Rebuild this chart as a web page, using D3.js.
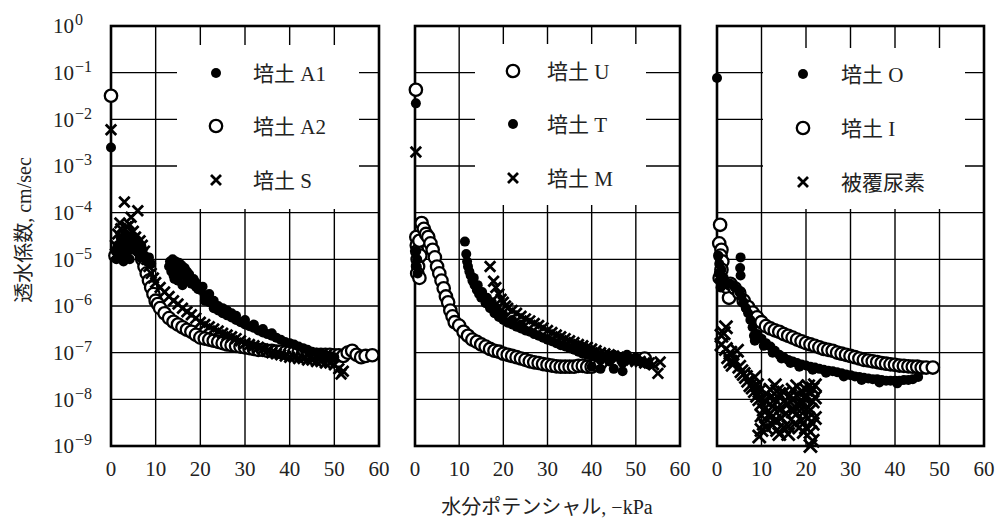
<!DOCTYPE html>
<html>
<head>
<meta charset="utf-8">
<script src="https://cdn.jsdelivr.net/npm/d3@7"></script>
<style>
  body { margin: 0; background: #fff; }
  svg text { fill: #222; }
</style>
</head>
<body>
<div class="chart"></div>
<script>
// axis ticks
const xTicks = [0, 10, 20, 30, 40, 50, 60];
const yExponents = [0, -1, -2, -3, -4, -5, -6, -7, -8, -9];

// panel 1 : [suction kPa, conductivity cm/sec]
const soilA1 = [[0,2.5e-3],[1,1.5e-5],[1.2,1e-5],[1.5,2e-5],[1.8,1.7e-5],[2,1.2e-5],[2.2,2.8e-5],[2.5,2.5e-5],[2.8,9e-6],[3,1.8e-5],[3.2,3.5e-5],[3.5,1.3e-5],[4,2.2e-5],[4.2,1e-5],[4.5,3e-5],[5,1.6e-5],[5.5,2e-5],[5.8,2.6e-5],[6,1.4e-5],[6.5,1.1e-5],[6.8,1.9e-5],[7,1.6e-5],[7.5,1.2e-5],[8,9e-6],[8.5,1.1e-5],[9,8e-6],
  [13,7e-6],[13.2,9e-6],[13.5,8e-6],[13.5,5.5e-6],[13.8,1e-5],[14,7.5e-6],[14,4.5e-6],[14.2,3.8e-6],[14.5,6e-6],[14.5,9e-6],[15,7e-6],[15,3.5e-6],[15.2,8.5e-6],[15.5,5e-6],[15.8,7.5e-6],[16,6e-6],[16,2.8e-6],[16.5,4.5e-6],[16.5,6.5e-6],[17,4e-6],[17,5.5e-6],[17.5,3.5e-6],[17.5,4.8e-6],[18,3e-6],[18.5,3.8e-6],[19,2.6e-6],[19,3.2e-6],[19.5,2.3e-6],[20,2.2e-6],[20.5,2.6e-6],[21,1.7e-6],[21,1.3e-6],[22,1.2e-6],[22,1.8e-6],[23,9e-7],[23,1.3e-6],[24,8e-7],[24,1e-6],[25,7e-7],[25,9e-7],[26,6.3e-7],[26,8e-7],[27,5.7e-7],[27,7e-7],[28,5e-7],[28,6.2e-7],[29,4.5e-7],[30,4e-7],[30,5e-7],[31,3.7e-7],[32,3.4e-7],[32,4e-7],[33,3e-7],[34,2.7e-7],[34,3.2e-7],[35,2.5e-7],[36,2.3e-7],[36,2.6e-7],[37,2.1e-7],[38,1.9e-7],[39,1.7e-7],[40,1.6e-7],[41,1.5e-7],[42,1.35e-7],[43,1.25e-7],[44,1.15e-7],[45,1.05e-7],[46,1e-7],[47,9.5e-8],[48,9e-8],[49,8.5e-8],[50,8e-8]];
const soilA2 = [[0,3.2e-2],[1,1.2e-5],[2,1.5e-5],[3,2e-5],[4,1.8e-5],[5,2.5e-5],[6,2e-5],[6.5,1.5e-5],[7,1e-5],[7.5,7e-6],[8,5e-6],[8.5,3.5e-6],[9,2.5e-6],[9.5,1.8e-6],[10,1.3e-6],[10.5,1.1e-6],[11,9e-7],[12,7e-7],[13,5.5e-7],[14,4.6e-7],[15,4e-7],[16,3.5e-7],[17,3.1e-7],[18,2.8e-7],[19,2.4e-7],[20,2.1e-7],[21,2e-7],[22,1.9e-7],[23,1.8e-7],[24,1.7e-7],[25,1.6e-7],[26,1.5e-7],[27,1.45e-7],[28,1.4e-7],[29,1.35e-7],[30,1.3e-7],[31,1.25e-7],[32,1.2e-7],[33,1.15e-7],[34,1.15e-7],[35,1.1e-7],[36,1.1e-7],[37,1.05e-7],[38,1.05e-7],[39,1e-7],[40,1e-7],[41,1e-7],[42,1e-7],[43,9.5e-8],[44,9.5e-8],[45,9e-8],[46,9e-8],[47,9e-8],[48,9e-8],[49,9e-8],[50,8.8e-8],[51,8.8e-8],[52,8.5e-8],[53,1e-7],[54,1.1e-7],[55,9e-8],[56,8e-8],[57,8.5e-8],[58.5,8.8e-8]];
const soilS = [[0,6e-3],[3,1.7e-4],[6,1.1e-4],[4.5,8e-5],[2,6e-5],[3.5,5e-5],[5,4e-5],[1.5,3.5e-5],[2.5,3e-5],[4,3.5e-5],[6.5,2.5e-5],[5.5,3e-5],[1,2e-5],[3,2.5e-5],[2.2,4.5e-5],[4.2,5.5e-5],[5.2,2e-5],[1.2,1.3e-5],[7,2e-5],[7.5,1.5e-5],[8,1e-5],[8.5,7e-6],[9,5e-6],[9.5,4e-6],[10,3.2e-6],[11,2.5e-6],[12,2e-6],[13,1.6e-6],[14,1.3e-6],[15,1.1e-6],[16,9e-7],[17,7.5e-7],[18,6.5e-7],[19,5.5e-7],[20,4.5e-7],[21,4e-7],[22,3.6e-7],[23,3.2e-7],[24,2.9e-7],[25,2.6e-7],[26,2.4e-7],[27,2.2e-7],[28,2e-7],[29,1.8e-7],[30,1.6e-7],[31,1.5e-7],[32,1.4e-7],[33,1.3e-7],[34,1.2e-7],[35,1.1e-7],[36,1e-7],[37,9.5e-8],[38,9e-8],[39,8.5e-8],[40,8e-8],[41,8e-8],[42,7.5e-8],[43,7.5e-8],[44,7e-8],[45,7e-8],[46,6.5e-8],[47,6.5e-8],[48,6e-8],[49,6e-8],[50,5.5e-8],[51,4.5e-8],[51.5,3.5e-8],[52,4e-8]];

// panel 2
const soilU = [[0.2,4.3e-2],[0.3,3e-5],[0.4,2e-5],[0.5,1.5e-5],[0.6,1e-5],[0.7,7e-6],[0.5,5e-6],[1,4e-6],[1,2.5e-5],[1.2,1.2e-5],[1.5,6e-5],[2,4.5e-5],[2.5,3.5e-5],[3,3e-5],[3.5,2.2e-5],[4,1.6e-5],[4.5,1.1e-5],[5,7e-6],[5.5,5e-6],[6,3.5e-6],[6.5,2.4e-6],[7,1.6e-6],[7.5,1.2e-6],[8,8e-7],[8.5,6e-7],[9,4.5e-7],[10,3.8e-7],[11,2.8e-7],[12,2.3e-7],[13,1.9e-7],[14,1.7e-7],[15,1.5e-7],[16,1.35e-7],[17,1.2e-7],[18,1.1e-7],[19,1.05e-7],[20,9.5e-8],[21,9e-8],[22,8.5e-8],[23,8e-8],[24,7.5e-8],[25,7e-8],[26,6.5e-8],[27,6.2e-8],[28,6e-8],[29,5.7e-8],[30,5.5e-8],[31,5.3e-8],[32,5.1e-8],[33,5e-8],[34,5e-8],[35,5e-8],[36,5e-8],[37,5.2e-8],[38,5.2e-8],[39,5e-8],[40,5e-8],[41,5.5e-8],[42,6e-8],[52,7.5e-8]];
const soilT = [[0.2,2.2e-2],[0.3,1.5e-5],[0.5,1e-5],[0.4,7e-6],[0.6,5e-6],[11.3,2.4e-5],[11.6,1.3e-5],[11.8,9e-6],[12,7e-6],[12.3,5.5e-6],[12.6,4.5e-6],[13,3.5e-6],[13.3,4e-6],[13.5,2.8e-6],[14,2.2e-6],[14.2,2.8e-6],[14.5,1.8e-6],[15,1.5e-6],[15.2,2e-6],[16,1.15e-6],[16.3,1.5e-6],[17,9e-7],[17.4,1.2e-6],[18,7e-7],[18.5,9e-7],[19,5.8e-7],[20,5e-7],[20,6.5e-7],[21,4.4e-7],[22,4e-7],[22,5e-7],[23,3.6e-7],[24,3.3e-7],[24,4e-7],[25,3e-7],[26,2.8e-7],[27,2.5e-7],[28,2.3e-7],[29,2.1e-7],[30,1.9e-7],[31,1.75e-7],[32,1.6e-7],[33,1.45e-7],[34,1.35e-7],[35,1.25e-7],[36,1.15e-7],[37,1.05e-7],[38,9.5e-8],[39,9e-8],[40,8.5e-8],[40,5e-8],[41,8e-8],[42,7e-8],[42,4.5e-8],[43,8e-8],[44,6.5e-8],[45,9e-8],[45,4.5e-8],[46,8e-8],[47,6e-8],[47,4e-8],[48,9e-8],[49,7e-8],[50,8e-8],[51,6.5e-8],[52,6e-8],[53,5.5e-8]];
const soilM = [[0.2,2e-3],[17,7e-6],[17.8,3.4e-6],[18.3,2.5e-6],[19,1.8e-6],[19.5,1.4e-6],[20,1.2e-6],[20.5,1e-6],[21,9e-7],[22,8e-7],[23,7e-7],[24,6e-7],[25,5.3e-7],[26,4.8e-7],[27,4.2e-7],[28,3.8e-7],[29,3.4e-7],[30,3e-7],[31,2.7e-7],[32,2.4e-7],[33,2.2e-7],[34,2e-7],[35,1.8e-7],[36,1.65e-7],[37,1.5e-7],[38,1.4e-7],[39,1.3e-7],[40,1.2e-7],[41,1.1e-7],[42,1e-7],[43,9.5e-8],[44,9e-8],[45,8.5e-8],[46,8e-8],[47,7.5e-8],[48,7e-8],[49,7e-8],[50,6.5e-8],[51,6.5e-8],[52,6e-8],[53,6e-8],[54,5.5e-8],[55.5,6.3e-8],[55,3.6e-8]];

// panel 3
const soilO = [[0,7.7e-2],[0.3,1.2e-5],[0.5,8e-6],[0.4,5e-6],[0.6,3.5e-6],[0.8,2.5e-6],[1,6e-6],[1.5,4e-6],[2,3e-6],[5.3,1.1e-5],[5.2,6.5e-6],[5.3,4.5e-6],[3,3e-6],[4,2.5e-6],[5,2e-6],[5.5,1.6e-6],[6,1.2e-6],[6.5,9e-7],[7,7e-7],[7.5,5e-7],[8,3.5e-7],[8.3,2.3e-7],[8.5,1.8e-7],[9,2.5e-7],[10,2e-7],[10.5,1.4e-7],[11,1.6e-7],[12,1.35e-7],[12.5,1e-7],[13,1.1e-7],[14,9e-8],[14.5,7.5e-8],[15,8e-8],[16,7e-8],[16.5,6e-8],[17,6.5e-8],[18,6e-8],[18.5,5e-8],[19,5.6e-8],[20,5.3e-8],[21,5e-8],[21.5,4.3e-8],[22,4.8e-8],[23,4.5e-8],[24,4.3e-8],[24.5,3.7e-8],[25,4.1e-8],[26,4e-8],[27,3.8e-8],[28,3.6e-8],[28.5,3.1e-8],[29,3.4e-8],[30,3.3e-8],[31,3.1e-8],[32,3e-8],[32.5,2.6e-8],[33,2.9e-8],[34,2.8e-8],[35,2.7e-8],[36,2.7e-8],[36.5,2.3e-8],[37,2.6e-8],[38,2.5e-8],[39,2.5e-8],[40,2.5e-8],[40.5,2.2e-8],[41,2.5e-8],[42,2.6e-8],[43,2.6e-8],[44,2.7e-8],[45.2,3e-8]];
const soilI = [[0.7,5.5e-5],[0.5,2.2e-5],[1,1.6e-5],[0.8,1.2e-5],[1.2,9e-6],[1,6e-6],[0.6,4e-6],[1.5,3e-6],[2.7,1.5e-6],[2,2.6e-6],[3,3e-6],[4,2.4e-6],[5,1.9e-6],[6,1.3e-6],[7,9.5e-7],[8,7.2e-7],[9,5.7e-7],[10,4.5e-7],[11,3.7e-7],[12,3.3e-7],[13,3e-7],[14,2.8e-7],[15,2.5e-7],[16,2.3e-7],[17,2.1e-7],[18,1.9e-7],[19,1.75e-7],[20,1.6e-7],[21,1.5e-7],[22,1.4e-7],[23,1.3e-7],[24,1.2e-7],[25,1.15e-7],[26,1.1e-7],[27,1e-7],[28,9.5e-8],[29,9e-8],[30,8.5e-8],[31,8e-8],[32,7.5e-8],[33,7e-8],[34,6.8e-8],[35,6.5e-8],[36,6.3e-8],[37,6e-8],[38,5.8e-8],[39,5.6e-8],[40,5.5e-8],[41,5.3e-8],[42,5.2e-8],[43,5.1e-8],[44,5e-8],[45,5e-8],[46,4.8e-8],[47,4.8e-8],[48.5,4.8e-8]];
const coatedUrea = [[2,3.5e-7],[1.5,2.6e-7],[1,1.5e-7],[2,1.2e-7],[3,1e-7],[2.5,8e-8],[4,7e-8],[3.5,5.5e-8],[5,5e-8],[5.5,4e-8],[6,3.5e-8],[6.5,3e-8],[7,2.5e-8],[7.5,2e-8],[8,1.8e-8],[8.5,1.5e-8],[9,1.2e-8],[9.5,1e-8],[10,8e-9],[10.5,6e-9],[10,4.5e-9],[10.5,3e-9],[10,2.2e-9],[9.5,1.6e-9],[11,1.3e-8],[12,1.1e-8],[13,2e-8],[13.5,1.5e-8],[12.5,7e-9],[14,6e-9],[14.5,4e-9],[13,3.5e-9],[15,2.5e-9],[16,1.8e-9],[15.5,5e-9],[16,8e-9],[16.5,1.2e-8],[17,1.6e-8],[18,1.9e-8],[19,1.5e-8],[19.5,1.1e-8],[20,1.6e-8],[20.5,1.9e-8],[21,1.4e-8],[21.5,9e-9],[21,6e-9],[20.5,4e-9],[21.5,3e-9],[21,2e-9],[21.5,1.3e-9],[21,1e-9],[20,2.5e-9],[19,3.5e-9],[18,5e-9],[17.5,3e-9],[18.5,7e-9],[17,1e-8],[12,1.6e-8],[11.5,4.5e-9],[19.5,2e-9],[22,1.1e-8],[22,4e-9],
  [11,9e-9],[12,5e-9],[13,1e-8],[14,1.3e-8],[15,9e-9],[15,1.4e-8],[16,2.6e-9],[17,5.5e-9],[17.5,7e-9],[18,1.2e-8],[18.5,2.5e-9],[19,8e-9],[20,6e-9],[20,1.1e-8],[22,2e-8],[21.5,1.7e-8],[11,2.5e-9],[12.5,2.8e-9],[14,1.8e-9],[13.5,2.2e-9],[8.5,3e-8],[9,2e-8],[4.5,1.1e-7],[3,6.5e-8],[1,2.3e-7],[9.5,1.5e-8]];

const labelsP1 = ['培土 A1', '培土 A2', '培土 S'];
const labelsP2 = ['培土 U', '培土 T', '培土 M'];
const labelsP3 = ['培土 O', '培土 I', '被覆尿素'];

const width = 995, height = 520;
const plotTop = 26, plotBottom = 446;
const serif = '"Liberation Serif", "DejaVu Serif", serif';
const cjk = '"Liberation Serif", "Noto Sans CJK JP", serif';

const panels = [
  { x0: 111, x1: 379, series: [soilA1, soilA2, soilS], types: ['dot', 'ring', 'cross'], labels: labelsP1,
    box: [177, 45, 359, 209], mx: 216, tx: 253, rows: [73, 126, 180], cross: 10.5, drawOrder: [1, 0, 2] },
  { x0: 415, x1: 680, series: [soilU, soilT, soilM], types: ['ring', 'dot', 'cross'], labels: labelsP2,
    box: [475, 44, 646, 205], mx: 513, tx: 547, rows: [71, 124, 178], cross: 10.5, drawOrder: [0, 1, 2] },
  { x0: 717, x1: 984, series: [soilO, soilI, coatedUrea], types: ['dot', 'ring', 'cross'], labels: labelsP3,
    box: [763, 48, 965, 209], mx: 803, tx: 841, rows: [74, 128, 182], cross: 13, drawOrder: [1, 0, 2] }
];

const svg = d3.select('.chart')
  .append('svg')
  .attr('width', width)
  .attr('height', height);

const y = d3.scaleLog().domain([1e-9, 1]).range([plotBottom, plotTop]);

const drawMarker = (g, type, cx, cy, size) => {
  if (type === 'dot') {
    g.append('circle').attr('cx', cx).attr('cy', cy).attr('r', 5).attr('fill', '#000');
  } else if (type === 'ring') {
    g.append('circle').attr('cx', cx).attr('cy', cy).attr('r', 6.2)
      .attr('fill', '#fff').attr('stroke', '#000').attr('stroke-width', 2.3);
  } else {
    const h = size / 2;
    g.append('path')
      .attr('d', `M${cx - h},${cy - h}L${cx + h},${cy + h}M${cx - h},${cy + h}L${cx + h},${cy - h}`)
      .attr('stroke', '#000').attr('stroke-width', 2.8).attr('fill', 'none');
  }
};

panels.forEach((p, pi) => {
  const x = d3.scaleLinear().domain([0, 60]).range([p.x0, p.x1]);
  const g = svg.append('g');

  // grid
  g.selectAll('.vgrid').data(xTicks.slice(1, -1)).enter().append('line')
    .attr('x1', d => x(d)).attr('x2', d => x(d)).attr('y1', plotTop).attr('y2', plotBottom)
    .attr('stroke', '#000').attr('stroke-width', 1.4);
  g.selectAll('.hgrid').data(yExponents.slice(1, -1)).enter().append('line')
    .attr('x1', p.x0).attr('x2', p.x1).attr('y1', d => y(Math.pow(10, d))).attr('y2', d => y(Math.pow(10, d)))
    .attr('stroke', '#000').attr('stroke-width', 1.4);

  // legend box hides the grid
  g.append('rect').attr('x', p.box[0]).attr('y', p.box[1])
    .attr('width', p.box[2] - p.box[0]).attr('height', p.box[3] - p.box[1]).attr('fill', '#fff');

  // frame
  g.append('rect').attr('x', p.x0).attr('y', plotTop).attr('width', p.x1 - p.x0).attr('height', plotBottom - plotTop)
    .attr('fill', 'none').attr('stroke', '#000').attr('stroke-width', 2.6);

  // x tick labels
  g.selectAll('.xt').data(xTicks).enter().append('text')
    .attr('x', d => x(d)).attr('y', 476)
    .attr('text-anchor', 'middle').attr('font-family', serif).attr('font-size', 21)
    .text(d => d);

  // legend
  p.labels.forEach((lab, i) => {
    drawMarker(g, p.types[i], p.mx, p.rows[i], 10);
    g.append('text').attr('x', p.tx).attr('y', p.rows[i]).attr('dy', '0.36em')
      .attr('font-family', cjk).attr('font-size', 21).text(lab);
  });

  // data
  const dataG = g.append('g');
  p.drawOrder.forEach(si => {
    p.series[si].forEach(d => drawMarker(dataG, p.types[si], x(d[0]), y(d[1]), p.cross));
  });
});

// y tick labels
const yl = svg.selectAll('.yt').data(yExponents).enter().append('text')
  .attr('x', 53).attr('y', d => y(Math.pow(10, d))).attr('dy', '0.35em')
  .attr('font-family', serif).attr('font-size', 21);
yl.append('tspan').text('10');
yl.append('tspan').attr('dy', -8).attr('dx', 1).attr('font-size', 16)
  .text(d => d === 0 ? '0' : '\u2212' + (-d));

// axis titles
svg.append('text').attr('x', 547).attr('y', 514).attr('text-anchor', 'middle')
  .attr('font-family', cjk).attr('font-size', 20).text('水分ポテンシャル, \u2212kPa');
svg.append('text').attr('transform', 'translate(31,230) rotate(-90)').attr('text-anchor', 'middle')
  .attr('font-family', cjk).attr('font-size', 20).text('透水係数,  cm/sec');
</script>
</body>
</html>
